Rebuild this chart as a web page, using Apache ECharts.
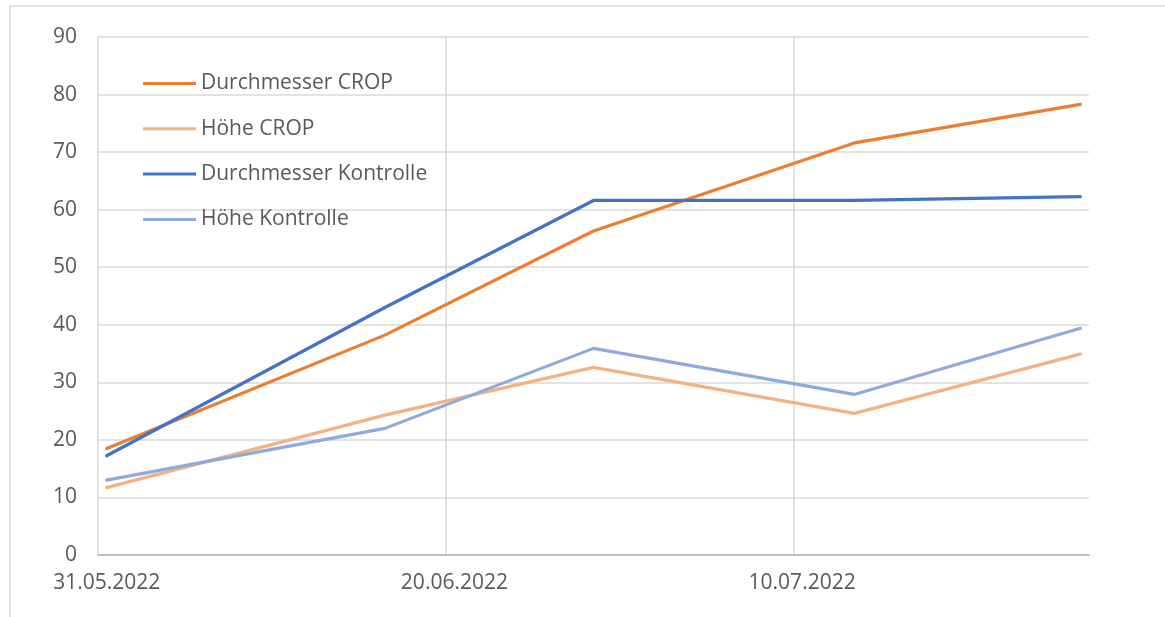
<!DOCTYPE html>
<html>
<head>
<meta charset="utf-8">
<title>Durchmesser und Höhe</title>
<script src="https://cdn.jsdelivr.net/npm/echarts@6/dist/echarts.min.js"></script>
<style>
  html, body { margin: 0; padding: 0; background: #ffffff; }
  #chart { width: 1165px; height: 617px; }
</style>
</head>
<body>
<div id="chart"></div>
<script>
// Measurement dates (dd.mm.yyyy)
const measureDates = ['31.05.2022', '16.06.2022', '28.06.2022', '13.07.2022', '26.07.2022'];

// Series values per measurement date
const durchmesserCrop      = [18.5, 38.2, 56.3, 71.6, 78.3];
const hoeheCrop            = [11.7, 24.3, 32.6, 24.6, 34.9];
const durchmesserKontrolle = [17.25, 43.0, 61.6, 61.6, 62.25];
const hoeheKontrolle       = [13.0, 22.0, 35.9, 27.9, 39.4];

const seriesNames  = ['Durchmesser CROP', 'Höhe CROP', 'Durchmesser Kontrolle', 'Höhe Kontrolle'];
const seriesColors = ['#ED7D31', '#F4B183', '#4472C4', '#8FAADC'];

// Y axis range
const yMin = 0, yMax = 90, yStep = 10;
// Date axis: one label every 20 days
const dayStep = 20;

function parseDate(s) {
  const [d, m, y] = s.split('.').map(Number);
  return Date.UTC(y, m - 1, d);
}
function fmtDate(t) {
  const dt = new Date(t);
  const dd = String(dt.getUTCDate()).padStart(2, '0');
  const mm = String(dt.getUTCMonth() + 1).padStart(2, '0');
  return dd + '.' + mm + '.' + dt.getUTCFullYear();
}

// Every calendar day from the first to the last measurement
const DAY = 86400000;
const allDays = [];
for (let t = parseDate(measureDates[0]); t <= parseDate(measureDates[measureDates.length - 1]); t += DAY) {
  allDays.push(fmtDate(t));
}

const valueSets = [durchmesserCrop, hoeheCrop, durchmesserKontrolle, hoeheKontrolle];

const chart = echarts.init(document.getElementById('chart'), null, { renderer: 'canvas' });

const FONT = '"Open Sans", "Liberation Sans", sans-serif';
const FONT_SIZE = 21;
const GRID_COLOR = '#d9d9d9';
const TEXT_COLOR = '#595959';

chart.setOption({
  animation: false,
  backgroundColor: '#ffffff',
  graphic: [{
    type: 'rect',
    shape: { x: 10, y: 6, width: 2000, height: 2000 },
    style: { fill: 'none', stroke: GRID_COLOR, lineWidth: 1.5 },
    silent: true,
    z: -10
  }],
  grid: { left: 98, right: 76, top: 37, bottom: 62, containLabel: false },
  legend: {
    orient: 'vertical',
    left: 143,
    top: 71,
    padding: 0,
    icon: 'rect',
    itemWidth: 53,
    itemHeight: 3,
    itemGap: 20.3,
    data: seriesNames,
    textStyle: { color: TEXT_COLOR, fontFamily: FONT, fontSize: FONT_SIZE, lineHeight: 25 }
  },
  xAxis: {
    type: 'category',
    data: allDays,
    boundaryGap: true,
    axisLine: { show: true, lineStyle: { color: '#bfbfbf', width: 2 } },
    axisTick: { show: false },
    axisLabel: {
      interval: dayStep - 1,
      color: TEXT_COLOR,
      fontFamily: FONT,
      fontSize: FONT_SIZE,
      margin: 18
    },
    splitLine: {
      show: true,
      interval: dayStep - 1,
      showMaxLine: false,
      lineStyle: { color: GRID_COLOR, width: 1.5 }
    }
  },
  yAxis: {
    type: 'value',
    min: yMin,
    max: yMax,
    interval: yStep,
    axisLine: { show: false },
    axisTick: { show: false },
    axisLabel: { color: TEXT_COLOR, fontFamily: FONT, fontSize: FONT_SIZE, margin: 21 },
    splitLine: { show: true, lineStyle: { color: GRID_COLOR, width: 1.5 } }
  },
  series: seriesNames.map((name, i) => ({
    name: name,
    type: 'line',
    data: measureDates.map((d, k) => [d, valueSets[i][k]]),
    showSymbol: false,
    symbol: 'none',
    color: seriesColors[i],
    lineStyle: { color: seriesColors[i], width: 3.2, cap: 'round', join: 'round' },
    z: 3
  }))
});
</script>
</body>
</html>
